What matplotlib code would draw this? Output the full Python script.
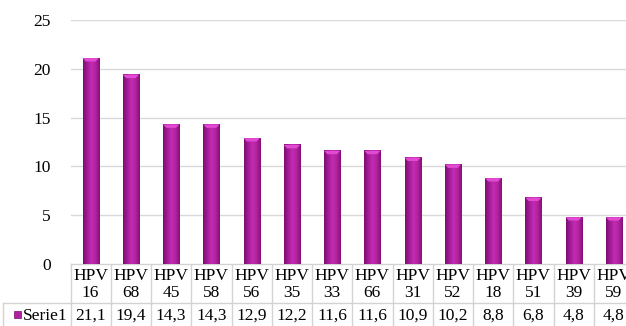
import numpy as np
import matplotlib
matplotlib.use("Agg")
import matplotlib.pyplot as plt
import matplotlib.transforms as mtransforms
from matplotlib.colors import LinearSegmentedColormap
from matplotlib.patches import Polygon

# =============================
# DATA
# =============================
categories = ["HPV\n16", "HPV\n68", "HPV\n45", "HPV\n58", "HPV\n56", "HPV\n35", "HPV\n33",
              "HPV\n66", "HPV\n31", "HPV\n52", "HPV\n18", "HPV\n51", "HPV\n39", "HPV\n59"]
values = [21.1, 19.4, 14.3, 14.3, 12.9, 12.2, 11.6, 11.6, 10.9, 10.2, 8.8, 6.8, 4.8, 4.8]
series_name = "Serie1"
y_ticks = [0, 5, 10, 15, 20, 25]

plt.rcParams["font.family"] = ["Liberation Serif", "DejaVu Serif"]

W, H = 626, 326
fig = plt.figure(figsize=(W / 100, H / 100), dpi=100)

# axes: left edge at ~70px, ~40px per category, runs past the right edge (clipped like the original)
ax_left, ax_top, ax_bottom = 70.5, 20, 264
col_w = 40.25
ax = fig.add_axes([ax_left / W, 1 - ax_bottom / H, len(values) * col_w / W, (ax_bottom - ax_top) / H])

x = np.arange(len(values))
bar_w = 0.4

# gridlines
for t in y_ticks[1:]:
    ax.axhline(t, color="#D9D9D9", lw=1, zorder=0)

# bars with a horizontal shading to mimic the 3D column look
cmap = LinearSegmentedColormap.from_list("mag", ["#7A0E70", "#A41B96", "#C22CB3", "#B2239C", "#84117A"])
grad = np.linspace(0, 1, 64).reshape(1, -1)
cap = 0.35
for xi, v in zip(x, values):
    ax.imshow(grad, cmap=cmap, aspect="auto", extent=[xi - bar_w / 2, xi + bar_w / 2, 0, v],
              zorder=2, interpolation="bilinear")
    top = Polygon([[xi - bar_w / 2, v], [xi + bar_w / 2, v],
                   [xi + bar_w / 2 - 0.08, v - cap], [xi - bar_w / 2 + 0.08, v - cap]],
                  closed=True, facecolor="#E24AD3", edgecolor="none", zorder=3)
    ax.add_patch(top)
ax.set_xlim(-0.5, len(values) - 0.5)
ax.set_ylim(0, 25)

ax.set_yticks(y_ticks)
ax.set_yticklabels([str(t) for t in y_ticks], fontsize=12.5)
ax.tick_params(axis="y", length=0, pad=14)
ax.set_xticks([])
for s in ax.spines.values():
    s.set_visible(False)

# =============================
# DATA TABLE
# =============================
tr = mtransforms.blended_transform_factory(ax.transData, fig.transFigure)
fy = lambda py: 1 - py / H
row_sep, row_bot = 303, 326
line_kw = dict(color="#D3D3D3", lw=1, clip_on=False, zorder=1)

ax.plot([-0.5, len(values) - 0.5], [fy(ax_bottom)] * 2, transform=tr, **line_kw)
fig.add_artist(plt.Line2D([3 / W, 1], [fy(row_sep)] * 2, color="#D3D3D3", lw=1))
fig.add_artist(plt.Line2D([3 / W, 3 / W], [fy(row_sep), fy(row_bot)], color="#D3D3D3", lw=1))
for i in range(len(values) + 1):
    ax.plot([i - 0.5, i - 0.5], [fy(ax_bottom), fy(row_bot)], transform=tr, **line_kw)

for xi, cat, v in zip(x, categories, values):
    ax.text(xi, fy((ax_bottom + row_sep) / 2 + 1), cat, transform=tr, ha="center", va="center",
            fontsize=12.5, linespacing=1.05, clip_on=False)
    ax.text(xi, fy((row_sep + row_bot) / 2 + 1), f"{v:.1f}".replace(".", ","), transform=tr,
            ha="center", va="center", fontsize=12.5, clip_on=False)

fig.patches.append(plt.Rectangle((14 / W, fy(318)), 7 / W, 7 / H, transform=fig.transFigure,
                                 facecolor="#B0209F", edgecolor="#7E0F74", lw=0.5))
fig.text(23 / W, fy((row_sep + row_bot) / 2 + 1), series_name, ha="left", va="center", fontsize=12.5)

fig.savefig("out.png", dpi=100)
